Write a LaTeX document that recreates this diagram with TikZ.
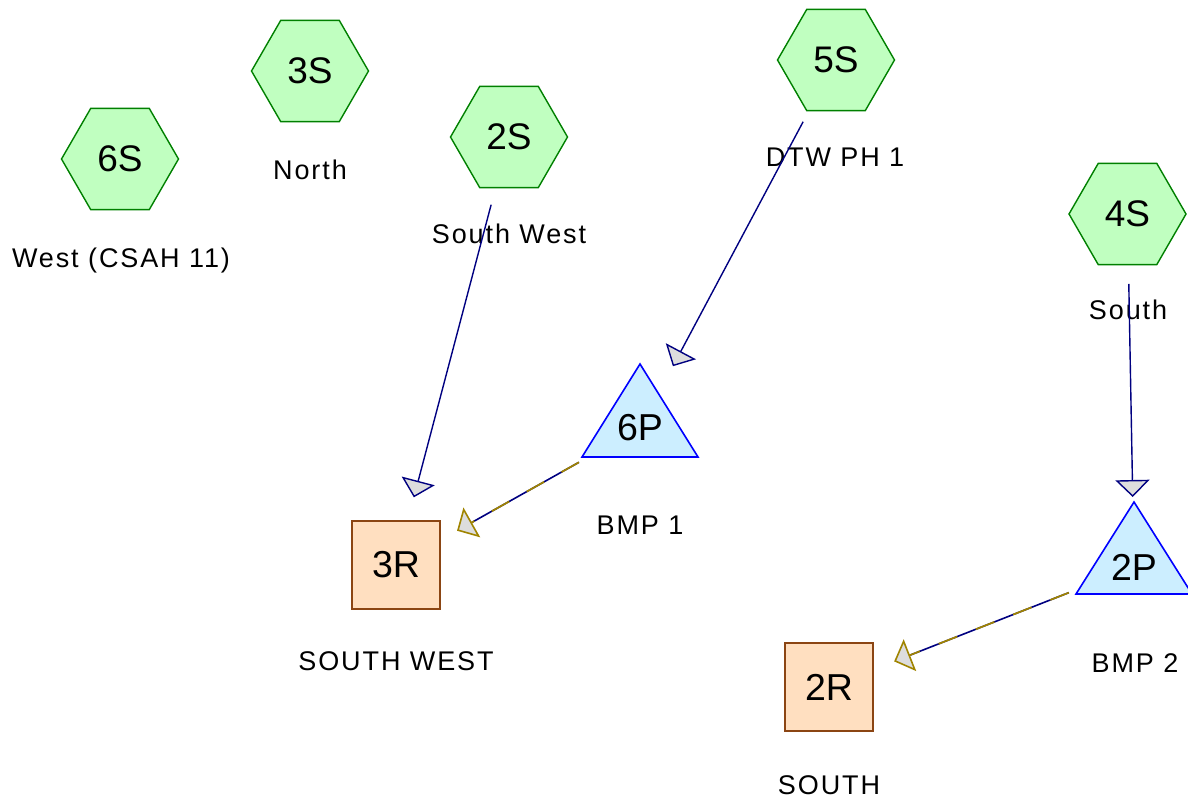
\documentclass[tikz,border=0pt]{standalone}
\usepackage{fontspec}
\setmainfont{Liberation Sans}
\newfontfamily\lblfont[LetterSpace=7]{Liberation Sans}
\usetikzlibrary{shapes.geometric,arrows.meta}
\definecolor{hexfill}{HTML}{C0FFC0}
\definecolor{hexline}{HTML}{008000}
\definecolor{trifill}{HTML}{CCEEFF}
\definecolor{triline}{HTML}{0000FF}
\definecolor{sqfill}{HTML}{FFDFC0}
\definecolor{sqline}{HTML}{8B4513}
\definecolor{navyline}{HTML}{000080}
\definecolor{oliveline}{HTML}{A08400}
\definecolor{tipfill}{HTML}{DDDDDD}
\begin{document}
\begin{tikzpicture}[x=1pt,y=-1pt,
  hexnode/.style={regular polygon, regular polygon sides=6, minimum size=117pt, inner sep=0pt,
    draw=hexline, fill=hexfill, line width=1.4pt, font=\fontsize{37}{37}\selectfont},
  sqnode/.style={rectangle, minimum size=88pt, inner sep=0pt, draw=sqline, fill=sqfill,
    line width=1.4pt, font=\fontsize{37.5}{37.5}\selectfont},
  trishape/.style={draw=triline, fill=trifill, line width=1.6pt, line join=miter},
  tritxt/.style={font=\fontsize{37.5}{37.5}\selectfont, inner sep=0pt},
  lbl/.style={anchor=base, font=\lblfont\fontsize{27}{27}\selectfont, inner sep=0pt},
  flow/.style={draw=navyline, line width=1.4pt, shorten <=70pt, shorten >=70pt,
    -{Triangle[width=34pt,length=17pt,fill=tipfill]}},
  flowolive/.style={draw=navyline, line width=1.6pt, shorten <=70pt, shorten >=70pt,
    -{Triangle[width=34pt,length=17pt,fill=tipfill,color=oliveline]}},
  dashover/.style={draw=oliveline, line width=1.7pt, dash pattern=on 20pt off 20pt,
    shorten <=70pt, shorten >=87pt}
]
\useasboundingbox (0,0) rectangle (1188,801);

% subcatchments
\node[hexnode] (6S) at (120,159) {6S};
\node[hexnode] (3S) at (310,71) {3S};
\node[hexnode] (2S) at (509,137) {2S};
\node[hexnode] (5S) at (836,60) {5S};
\node[hexnode] (4S) at (1127.5,214) {4S};

% ponds
\draw[trishape] (640,364) -- (698,457) -- (582,457) -- cycle;
\node[tritxt] (6P) at (640,428) {6P};
\draw[trishape] (1134,502) -- (1192,594) -- (1076,594) -- cycle;
\node[tritxt] (2P) at (1134,567) {2P};

% reaches
\node[sqnode] (3R) at (396,565) {3R};
\node[sqnode] (2R) at (829,687) {2R};

% labels
\node[lbl] (l6S) at (121,267) {West (CSAH 11)};
\node[lbl] (l3S) at (310,179) {North};
\node[lbl] (l2S) at (509,243) {South West};
\node[lbl] (l5S) at (835,166) {DTW PH 1};
\node[lbl] (l4S) at (1128,319) {South};
\node[lbl] (l6P) at (640,534) {BMP 1};
\node[lbl] (l2P) at (1135,672) {BMP 2};
\node[lbl] (l3R) at (396,670) {SOUTH WEST};
\node[lbl] (l2R) at (829,794) {SOUTH};

% connectors
\draw[flow] (2S.center) -- (3R.center);
\draw[flow] (5S.center) -- (6P.center);
\draw[flow] (4S.center) -- (2P.center);
\draw[flowolive] (6P.center) -- (3R.center);
\draw[dashover] (6P.center) -- (3R.center);
\draw[flowolive] (2P.center) -- (2R.center);
\draw[dashover] (2P.center) -- (2R.center);
\end{tikzpicture}
\end{document}
